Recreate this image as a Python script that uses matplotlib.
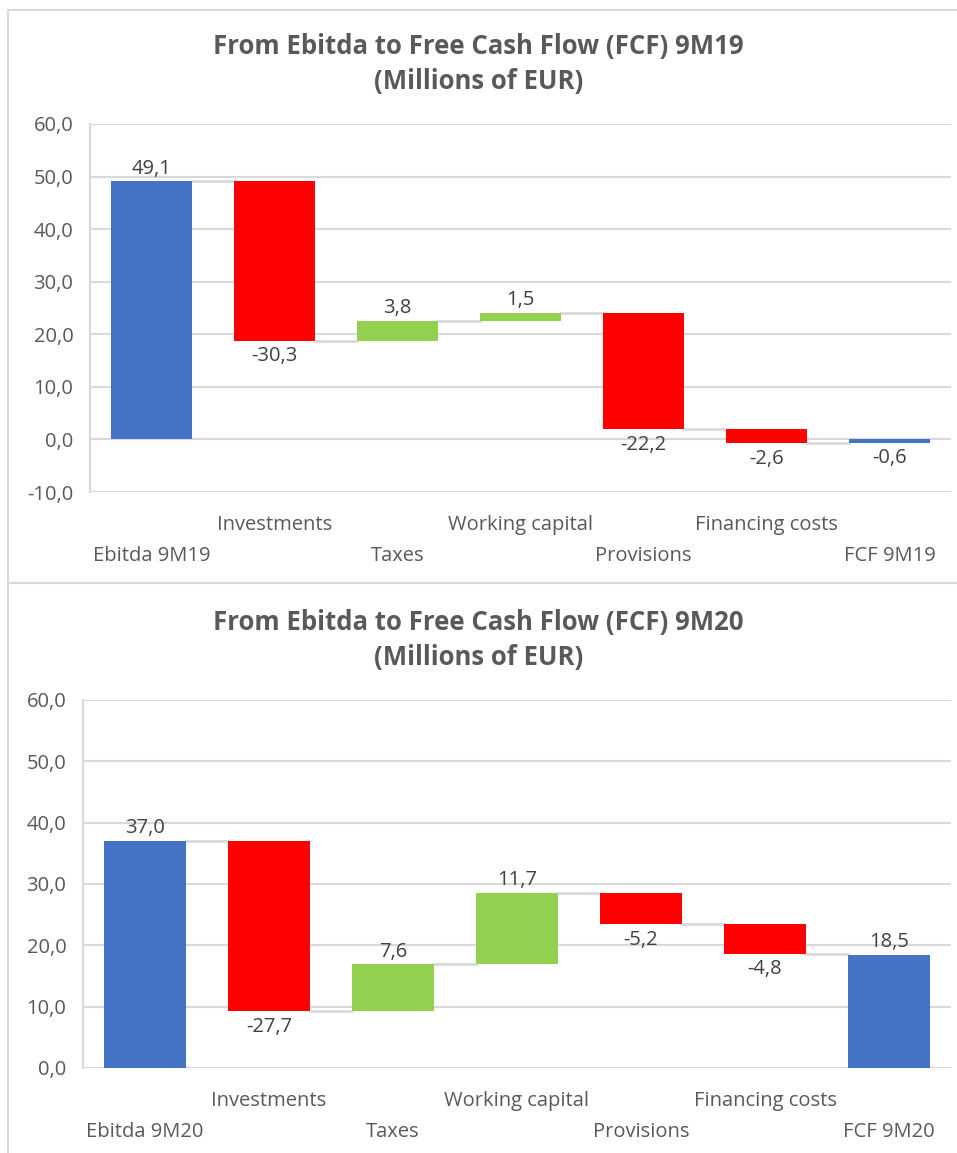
import matplotlib.pyplot as plt
import numpy as np
from matplotlib.lines import Line2D

plt.rcParams['font.family'] = ['Open Sans', 'DejaVu Sans']

# dados dos dois gráficos (cascata)
categorias_19 = ['Ebitda 9M19', 'Investments', 'Taxes', 'Working capital',
                 'Provisions', 'Financing costs', 'FCF 9M19']
valores_19 = [49.1, -30.3, 3.8, 1.5, -22.2, -2.6, -0.6]

categorias_20 = ['Ebitda 9M20', 'Investments', 'Taxes', 'Working capital',
                 'Provisions', 'Financing costs', 'FCF 9M20']
valores_20 = [37.0, -27.7, 7.6, 11.7, -5.2, -4.8, 18.5]

titulo_19 = 'From Ebitda to Free Cash Flow (FCF) 9M19\n(Millions of EUR)'
titulo_20 = 'From Ebitda to Free Cash Flow (FCF) 9M20\n(Millions of EUR)'

AZUL = '#4472C4'
VERMELHO = '#FF0000'
VERDE = '#92D050'
GRADE = '#D9D9D9'
TEXTO = '#595959'
TAM = 14.5

W, H = 957, 1153
fig = plt.figure(figsize=(W / 100, H / 100), dpi=100)


def eixo(esq, dir_, topo, base):
    # posição do eixo em pixels -> fração da figura
    return fig.add_axes([esq / W, 1 - base / H, (dir_ - esq) / W, (base - topo) / H])


def fmt(v):
    return f'{v:.1f}'.replace('.', ',')


def cascata(ax, categorias, valores, ymin, ymax):
    n = len(valores)
    x = np.arange(n)
    largura = 0.66
    # início e fim de cada barra
    inicio = np.zeros(n)
    fim = np.zeros(n)
    acumulado = 0.0
    for i, v in enumerate(valores):
        if i == 0 or i == n - 1:
            inicio[i], fim[i] = 0.0, v
            acumulado = v if i == 0 else acumulado
        else:
            inicio[i] = acumulado
            acumulado += v
            fim[i] = acumulado
    cores = []
    for i, v in enumerate(valores):
        if i == 0 or i == n - 1:
            cores.append(AZUL)
        else:
            cores.append(VERDE if v > 0 else VERMELHO)
    baixo = np.minimum(inicio, fim)
    altura = np.abs(fim - inicio)
    ax.bar(x, altura, bottom=baixo, width=largura, color=cores, zorder=3)

    # linhas de ligação
    for i in range(n - 1):
        nivel = fim[i]
        ax.plot([x[i] + largura / 2, x[i + 1] - largura / 2], [nivel, nivel],
                color=GRADE, lw=2, zorder=2)

    # rótulos de dados
    for i, v in enumerate(valores):
        if v >= 0:
            ax.annotate(fmt(v), (x[i], max(inicio[i], fim[i])), xytext=(0, 2),
                        textcoords='offset points', ha='center', va='bottom',
                        fontsize=TAM, color='#404040')
        else:
            ax.annotate(fmt(v), (x[i], min(inicio[i], fim[i])), xytext=(0, -4),
                        textcoords='offset points', ha='center', va='top',
                        fontsize=TAM, color='#404040')

    ax.set_xlim(-0.5, n - 0.5)
    ax.set_ylim(ymin, ymax)
    ax.set_yticks(np.arange(ymin, ymax + 1, 10))
    ax.set_yticklabels([fmt(t) for t in np.arange(ymin, ymax + 1, 10)])
    ax.grid(axis='y', color=GRADE, lw=1.5, zorder=0)
    ax.set_axisbelow(True)
    for lado in ['top', 'right', 'bottom']:
        ax.spines[lado].set_visible(False)
    ax.spines['left'].set_color(GRADE)
    ax.spines['left'].set_linewidth(1.5)
    ax.tick_params(axis='y', length=0, pad=12, labelsize=TAM, labelcolor=TEXTO)
    ax.set_xticks([])

    # rótulos do eixo x em duas linhas alternadas
    for i, c in enumerate(categorias):
        desloc = -24 if i % 2 == 1 else -46
        ax.annotate(c, (x[i], 0), xycoords=('data', 'axes fraction'),
                    xytext=(0, desloc), textcoords='offset points',
                    ha='center', va='center', fontsize=TAM, color=TEXTO)


ax1 = eixo(90, 951, 124, 492)
cascata(ax1, categorias_19, valores_19, -10, 60)
fig.text(0.5, 1 - 64 / H, titulo_19, ha='center', va='center', fontsize=18.5,
         fontweight='bold', color=TEXTO, linespacing=1.35)

ax2 = eixo(83, 951, 700, 1068)
cascata(ax2, categorias_20, valores_20, 0, 60)
fig.text(0.5, 1 - 640 / H, titulo_20, ha='center', va='center', fontsize=18.5,
         fontweight='bold', color=TEXTO, linespacing=1.35)

# molduras dos gráficos
fig.add_artist(Line2D([8 / W, 8 / W], [0, 1 - 10 / H], color=GRADE, lw=1.5))
fig.add_artist(Line2D([8 / W, 1], [1 - 10 / H, 1 - 10 / H], color=GRADE, lw=1.5))
fig.add_artist(Line2D([8 / W, 1], [1 - 583 / H, 1 - 583 / H], color=GRADE, lw=1.5))

fig.savefig('out.png', dpi=100, facecolor='white')
